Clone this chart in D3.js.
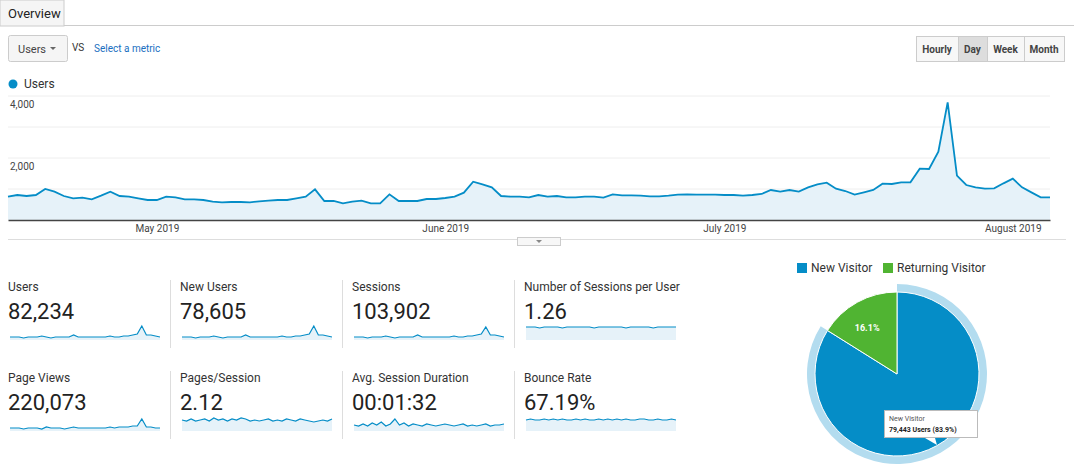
<!DOCTYPE html>
<html>
<head>
<meta charset="UTF-8">
<script src="https://cdnjs.cloudflare.com/ajax/libs/d3/7.8.5/d3.min.js"></script>
<style>
  body { margin:0; background:#fff; font-family: Roboto, Arial, sans-serif; }
  svg text { font-family: Roboto, Arial, sans-serif; }
</style>
</head>
<body>
<svg id="svg" width="1074" height="476"></svg>
<script>
// daily users, 15 Apr 2019 .. 1 Aug 2019
var users = [753,806,774,806,1000,914,774,699,720,667,785,914,774,753,699,645,645,753,731,667,667,645,591,570,581,581,570,602,624,645,645,699,753,989,613,613,538,591,624,538,538,828,613,613,613,677,677,710,753,882,1236,1150,1054,774,753,
             753,731,806,753,774,731,731,753,753,720,828,796,796,785,763,763,785,817,828,817,817,817,806,806,785,806,839,968,914,968,914,1054,1150,1204,1011,935,817,892,968,1172,1161,1215,1215,1655,1645,2204,3795,1430,1129,1054,1011,1021,1183,1333,1054,892,731,731];
var startDate = new Date(2019, 3, 15);
var yTicks = [2000, 4000];

var metricLabels = ["Users","New Users","Sessions","Number of Sessions per User","Page Views","Pages/Session","Avg. Session Duration","Bounce Rate"];
var metricValues = ["82,234","78,605","103,902","1.26","220,073","2.12","00:01:32","67.19%"];
// weekly-ish sparkline samples per metric
var sparks = [
  [3,3,3,2,3,3,3,4,3,2,3,3,3,3,5,3,3,3,3,3,3,3,4,3,3,4,4,5,6,14,5,5,4,3],
  [3,3,3,2,3,3,3,4,3,2,3,3,3,3,5,3,3,3,3,3,3,3,4,3,3,4,4,5,6,14,5,5,4,3],
  [3,3,3,2,3,3,3,4,3,2,3,3,3,3,5,3,3,3,3,3,3,3,4,3,3,4,4,5,6,13,5,5,4,3],
  [13,13,13,12,13,13,13,13,12,13,13,13,13,13,13,12,13,13,13,13,13,13,12,13,13,13,13,13,12,13,13,13,13,13],
  [3,3,3,2,3,3,3,2,4,3,3,3,2,3,4,3,3,3,3,3,3,3,4,3,4,4,4,5,5,12,4,4,3,3],
  [11,10,12,10,11,12,10,13,11,12,10,12,11,13,12,10,11,10,11,12,10,11,10,12,11,10,12,11,10,9,10,11,10,12],
  [6,5,7,5,8,6,9,5,7,12,6,8,5,7,6,5,7,6,5,6,7,6,5,6,7,5,6,5,6,7,5,6,6,7],
  [11,12,11,11,12,11,12,11,12,11,11,12,11,12,11,11,12,11,12,11,12,11,12,11,11,12,12,11,11,12,11,11,12,11]
];
var pieLabels = ["New Visitor","Returning Visitor"];
var pieValues = [83.9, 16.1];
var pieColors = ["#058dc7","#50b432"];

var svg = d3.select("#svg");
var blue = "#058dc7";

// tab + header
svg.append("rect").attr("x",0).attr("y",0).attr("width",64).attr("height",26).attr("fill","#f5f5f5").attr("stroke","#ccc");
svg.append("line").attr("x1",64).attr("x2",1074).attr("y1",25.5).attr("y2",25.5).attr("stroke","#ccc");
svg.append("text").attr("x",8).attr("y",18).text("Overview").attr("font-size",13).attr("fill","#222");
svg.append("rect").attr("x",8.5).attr("y",35.5).attr("width",59).attr("height",26).attr("rx",2).attr("fill","#f5f5f5").attr("stroke","#ccc");
svg.append("text").attr("x",18).attr("y",53).text("Users").attr("font-size",11).attr("fill","#444");
svg.append("path").attr("d","M50,47 l6,0 l-3,3 z").attr("fill","#666");
svg.append("text").attr("x",72).attr("y",51).text("VS").attr("font-size",10).attr("fill","#333");
svg.append("text").attr("x",94).attr("y",52).text("Select a metric").attr("font-size",10).attr("fill","#1a6fbf");
var btns = ["Hourly","Day","Week","Month"], bw = [42,29,37,40], bx = 916;
btns.forEach(function(b,i){
  svg.append("rect").attr("x",bx+0.5).attr("y",36.5).attr("width",bw[i]).attr("height",25)
    .attr("fill", i==1 ? "#ddd" : "#f7f7f7").attr("stroke","#ccc");
  svg.append("text").attr("x",bx+bw[i]/2).attr("y",53).attr("text-anchor","middle").text(b)
    .attr("font-size",10).attr("font-weight","bold").attr("fill","#444");
  bx += bw[i];
});
svg.append("circle").attr("cx",13).attr("cy",84).attr("r",4.5).attr("fill",blue);
svg.append("text").attr("x",24).attr("y",88).text("Users").attr("font-size",12).attr("fill","#333");

// main chart
var dates = users.map(function(d,i){ return d3.timeDay.offset(startDate, i); });
var x = d3.scaleTime().domain([dates[0], dates[dates.length-1]]).range([8, 1050]);
var y = d3.scaleLinear().domain([0, 4000]).range([220, 96]);
[1000,2000,3000,4000].forEach(function(t){
  svg.append("line").attr("x1",8).attr("x2",1050).attr("y1",y(t)).attr("y2",y(t)).attr("stroke","#eee");
});
yTicks.forEach(function(t){
  svg.append("text").attr("x",10).attr("y",y(t)+12).text(d3.format(",")(t)).attr("font-size",10).attr("fill","#444");
});
svg.append("path").datum(users)
  .attr("d", d3.area().x(function(d,i){return x(dates[i]);}).y0(220).y1(function(d){return y(d);}))
  .attr("fill","#e6f2f9");
svg.append("path").datum(users)
  .attr("d", d3.line().x(function(d,i){return x(dates[i]);}).y(function(d){return y(d);}))
  .attr("fill","none").attr("stroke",blue).attr("stroke-width",1.8);
svg.append("g").attr("transform","translate(0,220)")
  .call(d3.axisBottom(x).ticks(d3.timeMonth.every(1)).tickFormat(d3.timeFormat("%B %Y")).tickSize(0).tickPadding(5))
  .call(function(g){
    g.select(".domain").attr("stroke","#444").attr("stroke-width",1.5);
    g.selectAll("text").attr("font-size",10).attr("fill","#444");
  });
svg.append("line").attr("x1",8).attr("x2",1066).attr("y1",239.5).attr("y2",239.5).attr("stroke","#ddd");
svg.append("rect").attr("x",517.5).attr("y",237.5).attr("width",43).attr("height",8).attr("fill","#f7f7f7").attr("stroke","#ccc");
svg.append("path").attr("d","M536,240 l6,0 l-3,3 z").attr("fill","#888");

// metric tiles
metricLabels.forEach(function(lab,i){
  var col = i % 4, row = Math.floor(i/4);
  var x0 = 8 + col*172, y0 = 278 + row*91;
  svg.append("text").attr("x",x0).attr("y",y0+13).text(lab).attr("font-size",12).attr("fill","#333");
  svg.append("text").attr("x",x0).attr("y",y0+41).text(metricValues[i]).attr("font-size",22).attr("fill","#222");
  if (col < 3) svg.append("line").attr("x1",x0+162.5).attr("x2",x0+162.5).attr("y1",y0+2).attr("y2",y0+70).attr("stroke","#ddd");
  var s = sparks[i];
  var sx = d3.scaleLinear().domain([0, s.length-1]).range([x0+2, x0+152]);
  var sy = d3.scaleLinear().domain([0, 15]).range([y0+62, y0+47]);
  var full = (i==3 || i==5 || i==7);
  svg.append("path").datum(s).attr("d", d3.area().x(function(d,j){return sx(j);}).y0(sy(0)).y1(function(d){return sy(d);}))
    .attr("fill","#e6f2f9");
  svg.append("path").datum(s).attr("d", d3.line().x(function(d,j){return sx(j);}).y(function(d){return sy(d);}))
    .attr("fill","none").attr("stroke",blue).attr("stroke-width",1.2);
});

// pie
var legX = [797, 883];
pieLabels.forEach(function(l,i){
  svg.append("rect").attr("x",legX[i]).attr("y",263).attr("width",10).attr("height",10).attr("fill",pieColors[i]);
  svg.append("text").attr("x",legX[i]+14).attr("y",272).text(l).attr("font-size",12).attr("fill","#333");
});
var cx = 897, cy = 374, r = 82;
var arcs = d3.pie().sort(null)(pieValues);
var pg = svg.append("g").attr("transform","translate("+cx+","+cy+")");
pg.append("path").attr("d", d3.arc().innerRadius(0).outerRadius(r+8)(arcs[0])).attr("fill","#b3dcef");
pg.selectAll(".sl").data(arcs).enter().append("path")
  .attr("d", d3.arc().innerRadius(0).outerRadius(r))
  .attr("fill", function(d,i){return pieColors[i];}).attr("stroke","#fff").attr("stroke-width",1);
var lab = d3.arc().innerRadius(r*0.55).outerRadius(r*0.55).centroid(arcs[1]);
pg.append("text").attr("x",lab[0]-8).attr("y",lab[1]-4).attr("text-anchor","middle").text(pieValues[1]+"%")
  .attr("font-size",9).attr("font-weight","bold").attr("fill","#fff");
// tooltip
svg.append("rect").attr("x",884.5).attr("y",410.5).attr("width",93).attr("height",27).attr("fill","#fff").attr("stroke","#bbb");
svg.append("path").attr("d","M925,438 l10,0 l2,7 z").attr("fill","#fff");
svg.append("text").attr("x",889).attr("y",421).text("New Visitor").attr("font-size",7).attr("fill","#555");
svg.append("text").attr("x",889).attr("y",432).text("79,443 Users ("+pieValues[0]+"%)").attr("font-size",7).attr("font-weight","bold").attr("fill","#222");
</script>
</body>
</html>
